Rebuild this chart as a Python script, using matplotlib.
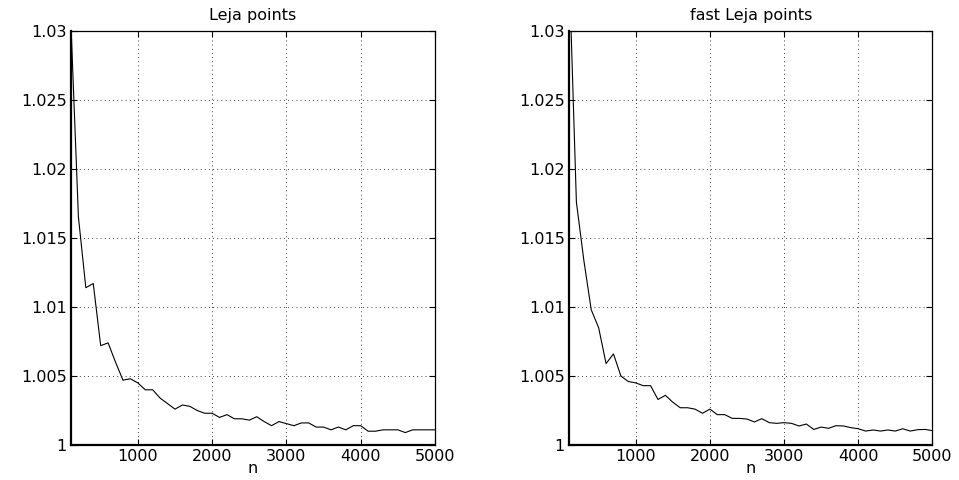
import matplotlib
matplotlib.use('Agg')
import matplotlib.pyplot as plt
import numpy as np

# n = 100, 200, ..., 5000
n = np.arange(100, 5001, 100)

leja = [1.0305, 1.01654, 1.0114, 1.0117, 1.0072, 1.0074, 1.0060, 1.0047, 1.0048, 1.0045,
        1.0040, 1.0040, 1.0034, 1.0030, 1.0026, 1.0029, 1.0028, 1.0025, 1.0023, 1.0023,
        1.0020, 1.0022, 1.0019, 1.0019, 1.0018, 1.00205, 1.0017, 1.0014, 1.0017, 1.00155,
        1.0014, 1.0016, 1.0016, 1.0013, 1.0013, 1.0011, 1.0013, 1.0011, 1.0014, 1.0014,
        1.0010, 1.0010, 1.0011, 1.0011, 1.0011, 1.0009, 1.0011, 1.0011, 1.0011, 1.0011]

fast_leja = [1.0350, 1.0176, 1.0134, 1.0098, 1.0085, 1.0059, 1.0066, 1.0050, 1.0046, 1.0045,
             1.0043, 1.0043, 1.0033, 1.0036, 1.0031, 1.0027, 1.0027, 1.0026, 1.0023, 1.0026,
             1.0022, 1.0022, 1.00193, 1.00193, 1.00188, 1.00167, 1.00191, 1.00162, 1.00157, 1.00162,
             1.00157, 1.00138, 1.00152, 1.00113, 1.0013, 1.00121, 1.0014, 1.00138, 1.00126, 1.00118,
             1.00101, 1.00109, 1.00101, 1.00109, 1.00101, 1.00118, 1.00101, 1.00111, 1.00113, 1.00104]

titles = ['Leja points', 'fast Leja points']
xticks = [1000, 2000, 3000, 4000, 5000]
yticks = [1, 1.005, 1.01, 1.015, 1.02, 1.025, 1.03]
ytick_labels = ['1', '1.005', '1.01', '1.015', '1.02', '1.025', '1.03']

plt.rcParams['font.family'] = 'DejaVu Sans'

fig = plt.figure(figsize=(9.59, 4.8), dpi=100)
positions = [[0.074, 0.0729, 0.3796, 0.8625],
             [0.5933, 0.0729, 0.379, 0.8625]]

for pos, data, title in zip(positions, [leja, fast_leja], titles):
    ax = fig.add_axes(pos)
    ax.plot(n, data, color='black', linewidth=0.8)
    ax.set_xlim(100, 5000)
    ax.set_ylim(1, 1.03)
    ax.set_xticks(xticks)
    ax.set_xticklabels([str(t) for t in xticks])
    ax.set_yticks(yticks)
    ax.set_yticklabels(ytick_labels)
    ax.grid(True, color='black', linestyle=(0, (1, 4)), linewidth=0.6)
    ax.tick_params(direction='in', top=True, right=True, length=4,
                   width=0.8, labelsize=11.5, pad=3)
    for side in ['left', 'bottom']:
        ax.spines[side].set_linewidth(1.6)
    for side in ['top', 'right']:
        ax.spines[side].set_linewidth(0.9)
    ax.set_title(title, fontsize=11.5, pad=8)
    ax.set_xlabel('n', fontsize=11.5, labelpad=-2)

plt.savefig('out.png', dpi=100)
